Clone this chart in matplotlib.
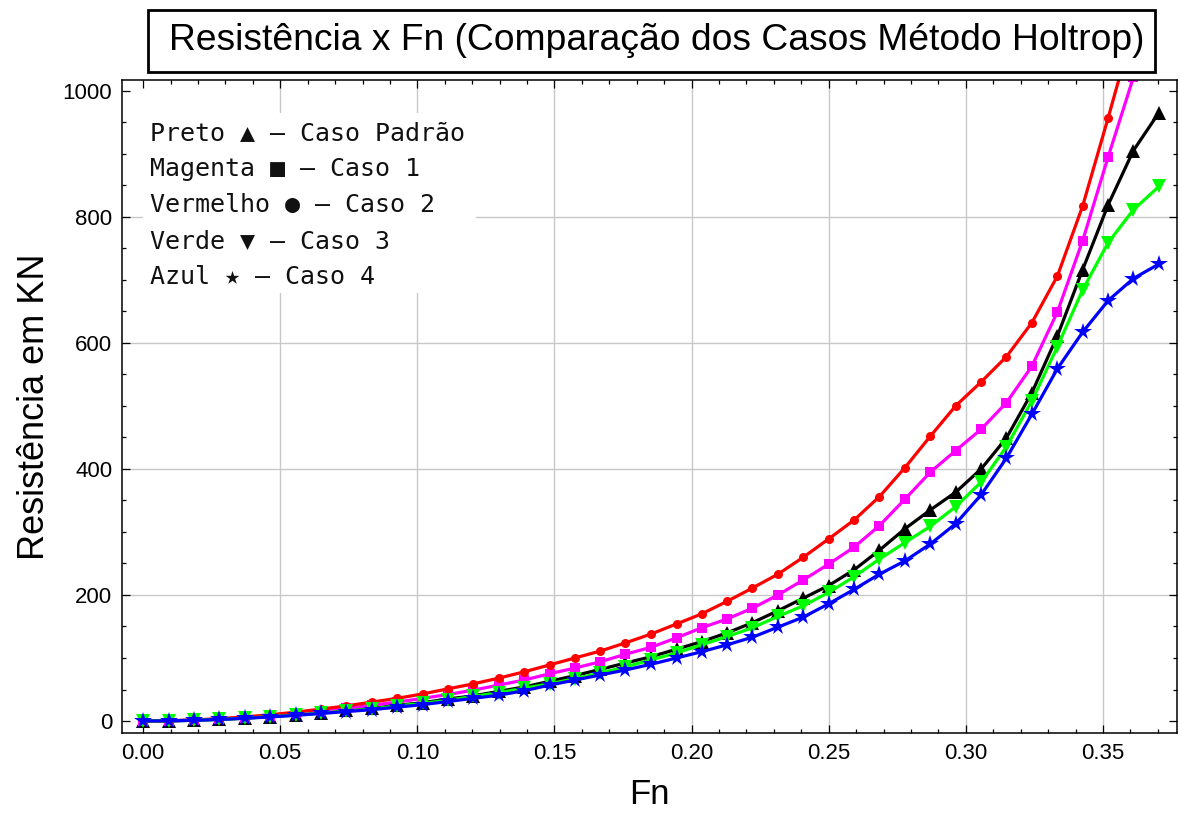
import matplotlib.pyplot as plt
from matplotlib.patches import Rectangle
from matplotlib.ticker import MultipleLocator

plt.rcParams['font.family'] = ['Liberation Sans', 'DejaVu Sans']

# numero de Froude (41 velocidades)
fn = [0.0000, 0.0093, 0.0185, 0.0278, 0.0370, 0.0463, 0.0556, 0.0648, 0.0741, 0.0833,
      0.0926, 0.1019, 0.1111, 0.1204, 0.1296, 0.1389, 0.1482, 0.1574, 0.1667, 0.1759,
      0.1852, 0.1945, 0.2037, 0.2130, 0.2222, 0.2315, 0.2408, 0.2500, 0.2593, 0.2685,
      0.2778, 0.2871, 0.2963, 0.3056, 0.3148, 0.3241, 0.3334, 0.3426, 0.3519, 0.3611,
      0.3704]

# resistencia total em kN
r_padrao = [0, 0.3, 1.2, 2.7, 4.6, 7, 10, 13, 17, 20,
            25, 29, 35, 40, 47, 54, 63, 72, 82, 92,
            102, 114, 126, 140, 156, 175, 195, 215, 240, 271,
            305, 335, 363, 400, 449, 521, 611, 716, 819, 905,
            965]
r_caso1 = [0, 0.4, 1.4, 3.2, 5.5, 8.5, 12, 16, 20, 25,
           30, 36, 42, 49, 57, 65, 75, 84, 94, 106,
           117, 132, 148, 162, 179, 200, 224, 249, 276, 310,
           352, 395, 429, 463, 505, 563, 649, 762, 895, 1021,
           1130]
r_caso2 = [0, 0.4, 1.7, 3.8, 6.5, 10, 14, 19, 24, 30,
           36, 43, 51, 59, 68, 78, 89, 100, 111, 124,
           138, 154, 170, 190, 211, 233, 260, 289, 319, 356,
           402, 452, 500, 538, 578, 632, 706, 817, 957, 1100,
           1240]
r_caso3 = [0, 0.3, 1.2, 2.6, 4.5, 7, 9.5, 12.5, 16, 19,
           24, 28, 33, 39, 45, 52, 59, 67, 76, 86,
           97, 108, 121, 134, 148, 166, 183, 204, 229, 257,
           283, 309, 340, 379, 435, 508, 594, 684, 759, 811,
           848]
r_caso4 = [0, 0.3, 1.1, 2.5, 4.3, 6.5, 9, 12, 15, 18,
           22, 26, 31, 36, 41, 48, 57, 65, 73, 81,
           90, 100, 110, 121, 133, 149, 165, 186, 209, 233,
           254, 281, 313, 359, 417, 487, 559, 617, 667, 702,
           725]

legenda = ['Preto \u25b2 \u2013 Caso Padr\u00e3o',
           'Magenta \u25a0 \u2013 Caso 1',
           'Vermelho \u25cf \u2013 Caso 2',
           'Verde \u25bc \u2013 Caso 3',
           'Azul \u2605 \u2013 Caso 4']

fig = plt.figure(figsize=(11.81, 8.16), dpi=100)
ax = fig.add_axes([0.1033, 0.1017, 0.8933, 0.8003])

lw = 2.3
ax.plot(fn, r_padrao, color='black', lw=lw, marker='^', ms=9.5, mew=0)
ax.plot(fn, r_caso1, color='#ff00ff', lw=lw, marker='s', ms=6.5, mew=0)
ax.plot(fn, r_caso2, color='#ff0000', lw=lw, marker='o', ms=6.5, mew=0)
ax.plot(fn, r_caso3, color='#00ff00', lw=lw, marker='v', ms=9.5, mew=0)
ax.plot(fn, r_caso4, color='#0000ff', lw=lw, marker='*', ms=13, mew=0)

ax.set_xlim(-0.0077, 0.377)
ax.set_ylim(-19, 1017)
ax.xaxis.set_major_locator(MultipleLocator(0.05))
ax.xaxis.set_minor_locator(MultipleLocator(0.01))
ax.yaxis.set_major_locator(MultipleLocator(200))
ax.yaxis.set_minor_locator(MultipleLocator(50))
ax.xaxis.set_major_formatter(lambda v, p: f'{v:.2f}')

ax.tick_params(which='both', direction='in', top=True, right=True,
               width=0.9, color='black', labelsize=16, pad=7)
ax.tick_params(which='major', length=5.5)
ax.tick_params(which='minor', length=3)
for s in ax.spines.values():
    s.set_linewidth(1.1)

# grade so nas linhas internas
ax.grid(True, which='major', color='#c8c8c8', lw=1.0)
ax.set_axisbelow(True)
fig.canvas.draw()
for v, g in zip(ax.get_xticks(), ax.get_xgridlines()):
    if v < 0.01:
        g.set_visible(False)
for v, g in zip(ax.get_yticks(), ax.get_ygridlines()):
    if v < 1 or v > 999:
        g.set_visible(False)

ax.set_xlabel('Fn', fontsize=25, labelpad=10)
ax.set_ylabel('Resist\u00eancia em KN', fontsize=26, labelpad=8)

# caixa da legenda
ax.add_patch(Rectangle((0.020, 0.674), 0.316, 0.275, transform=ax.transAxes,
                       facecolor='white', edgecolor='none', zorder=4))
for k, txt in enumerate(legenda):
    ax.text(0.0265, 0.919 - k * 0.0551, txt, transform=ax.transAxes,
            family=['DejaVu Sans Mono'], fontsize=18,
            color='#111111', va='center', ha='left', zorder=5)

# titulo em caixa
fig.patches.append(Rectangle((0.1253, 0.9118), 0.8527, 0.0760, transform=fig.transFigure,
                             facecolor='white', edgecolor='black', lw=2))
fig.text(0.556, 0.9498, 'Resist\u00eancia x Fn (Compara\u00e7\u00e3o dos Casos M\u00e9todo Holtrop)',
         fontsize=26.8, ha='center', va='center')

fig.savefig('out.png', dpi=100)
